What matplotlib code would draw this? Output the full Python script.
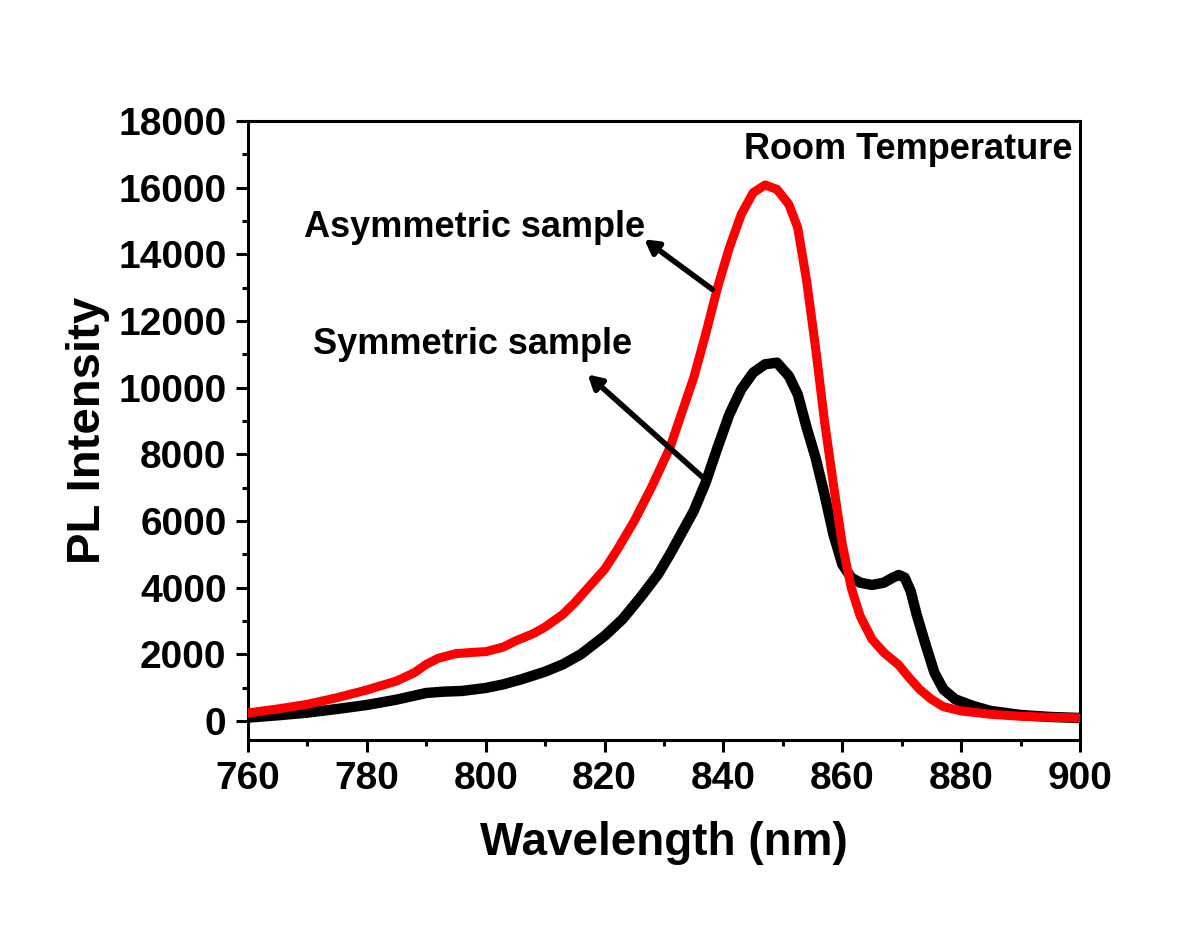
"""
Espectros de PL à temperatura ambiente: amostra simétrica x assimétrica.
"""
import matplotlib
matplotlib.use("Agg")
import matplotlib.pyplot as plt
from matplotlib.ticker import MultipleLocator

plt.rcParams["font.family"] = ["Liberation Sans", "DejaVu Sans"]
plt.rcParams["font.weight"] = "bold"

# Amostra assimétrica (vermelho)
comp_assim = [760, 765, 770, 775, 780, 785, 788, 790, 792, 795, 798, 800, 803,
              805, 808, 810, 813, 815, 817, 820, 822, 825, 828, 831, 833, 835,
              837, 839, 841, 843, 845, 847, 849, 851, 852.5, 854, 855.5, 857,
              858.5, 860, 861.5, 863, 865, 867, 869.5, 871, 873, 875, 877, 880,
              885, 890, 895, 900]
int_assim = [240, 360, 500, 700, 930, 1200, 1450, 1700, 1880, 2020, 2060, 2080,
             2220, 2400, 2620, 2820, 3200, 3550, 3950, 4550, 5100, 6000, 7050,
             8200, 9250, 10300, 11600, 13000, 14200, 15200, 15850, 16080, 15950,
             15500, 14800, 13200, 11200, 9000, 7100, 5300, 4000, 3150, 2450, 2050,
             1680, 1350, 950, 650, 430, 300, 200, 140, 110, 90]

# Amostra simétrica (preto)
comp_sim = [760, 765, 770, 775, 780, 785, 788, 790, 793, 796, 800, 803, 806,
            810, 813, 816, 820, 823, 826, 829, 831, 833, 835, 837, 839, 841, 843,
            845, 847, 849, 851, 852.5, 854, 855.5, 857, 858.5, 860, 861.5, 863,
            865, 867, 868.5, 869.5, 870.5, 871.5, 872.5, 874, 875.5, 877, 879,
            882, 885, 890, 895, 900]
int_sim = [100, 170, 250, 360, 480, 640, 760, 840, 880, 900, 990, 1100, 1250,
           1480, 1700, 2000, 2550, 3050, 3700, 4400, 5000, 5650, 6300, 7150,
           8200, 9200, 9950, 10450, 10700, 10750, 10350, 9800, 8800, 7900, 6800,
           5600, 4700, 4300, 4150, 4080, 4150, 4300, 4380, 4300, 3900, 3200,
           2300, 1450, 950, 650, 450, 300, 180, 120, 90]

fig = plt.figure(figsize=(12, 9.35), dpi=100)
ax = fig.add_axes([0.2067, 0.2086, 0.6933, 0.662])

ax.plot(comp_assim, int_assim, color="#ff0000", lw=6.5, solid_joinstyle="round", zorder=3)
ax.plot(comp_sim, int_sim, color="black", lw=7.5, solid_joinstyle="round", zorder=2)

ax.set_xlim(760, 900)
ax.set_ylim(-570, 18000)
ax.xaxis.set_major_locator(MultipleLocator(20))
ax.xaxis.set_minor_locator(MultipleLocator(10))
ax.yaxis.set_major_locator(MultipleLocator(2000))
ax.yaxis.set_minor_locator(MultipleLocator(1000))
ax.tick_params(which="both", direction="out", width=2.2, top=False, right=False,
               labelsize=28, pad=7)
ax.tick_params(which="major", length=8.5)
ax.tick_params(which="minor", length=4.5)
for s in ax.spines.values():
    s.set_linewidth(2.2)

ax.set_xlabel("Wavelength (nm)", fontsize=33, fontweight="bold", labelpad=17)
ax.set_ylabel("PL Intensity", fontsize=34, fontweight="bold", labelpad=6)

ax.text(898.8, 17130, "Room Temperature", ha="right", va="center",
        fontsize=26, fontweight="bold")

seta = dict(arrowstyle="-|>,head_length=0.8,head_width=0.45", color="black", lw=4)
ax.annotate("", xy=(826.3, 14500), xytext=(838.5, 12900), arrowprops=seta)
ax.text(798.2, 14790, "Asymmetric sample", ha="center", va="center",
        fontsize=26, fontweight="bold")
ax.annotate("", xy=(816.8, 10450), xytext=(837.5, 7150), arrowprops=seta)
ax.text(797.7, 11280, "Symmetric sample", ha="center", va="center",
        fontsize=26, fontweight="bold")

fig.savefig("out.png", dpi=100)
